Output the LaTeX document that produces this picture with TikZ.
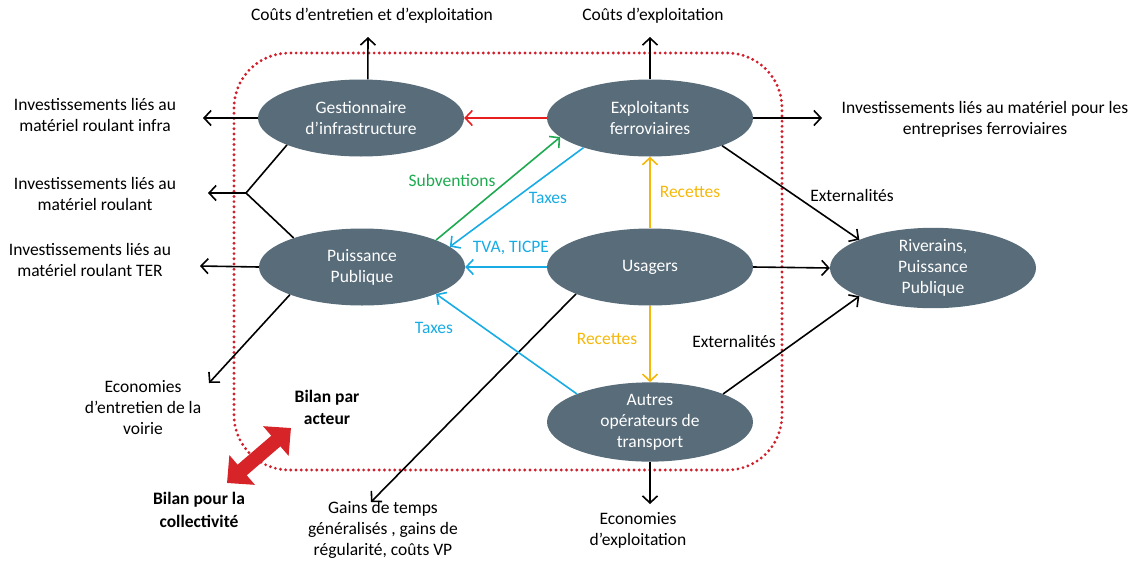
\documentclass[tikz,border=0pt]{standalone}
\usepackage{fontspec}
\setmainfont{Carlito}
\usetikzlibrary{shapes.geometric,arrows.meta}

\definecolor{acteurfill}{RGB}{88,108,122}
\definecolor{cadrerouge}{RGB}{208,32,44}
\definecolor{rouge}{RGB}{232,30,30}
\definecolor{vert}{RGB}{30,170,80}
\definecolor{bleu}{RGB}{25,172,228}
\definecolor{jaune}{RGB}{245,184,10}
\definecolor{bilanrouge}{RGB}{214,36,40}

\tikzset{
  acteur/.style={ellipse, fill=acteurfill, text=white, minimum width=206pt, minimum height=77pt, align=center, inner sep=0pt},
  flux/.style={->, line width=1.6pt},
  cadre/.style={draw=cadrerouge, line width=3.2pt, dash pattern=on 0pt off 5.2pt, line cap=round, rounded corners=55pt},
  bilan/.style={bilanrouge, line width=14pt, {Triangle[length=20pt,width=38pt]}-{Triangle[length=20pt,width=38pt]}},
}

\begin{document}
\begin{tikzpicture}[x=1pt,y=-1pt,
    every node/.style={font=\fontsize{17.5}{21}\selectfont, align=center},
    >={Straight Barb[length=7pt,width=15pt]}]
    \useasboundingbox (0,0) rectangle (1137,560);

    % cadre
    \draw[cadre] (234,53) rectangle (782,470);

    % acteurs
    \node[acteur] (gest) at (361,118) {Gestionnaire\\d’infrastructure};
    \node[acteur] (expl) at (650,118) {Exploitants\\ferroviaires};
    \node[acteur] (puis) at (362,267) {Puissance\\Publique};
    \node[acteur] (usag) at (650,267) {Usagers};
    \node[acteur] (autr) at (650,422) {Autres\\opérateurs de\\transport};
    \node[acteur] (rive) at (933,268) {Riverains,\\Puissance\\Publique};

    % textes
    \node (cEI) at (372,16) {Coûts d’entretien et d’exploitation};
    \node (cE) at (653,16) {Coûts d’exploitation};
    \node (invI) at (95,115) {Investissements liés au\\matériel roulant infra};
    \node (invR) at (95,194) {Investissements liés au\\matériel roulant};
    \node (invT) at (90,260) {Investissements liés au\\matériel roulant TER};
    \node (ecoV) at (143,408) {Economies\\d’entretien de la\\voirie};
    \node (invF) at (985,119) {Investissements liés au matériel pour les\\entreprises ferroviaires};
    \node (gains) at (383,530) {Gains de temps\\généralisés , gains de\\régularité, coûts VP};
    \node (ecoE) at (638,530) {Economies\\d’exploitation};
    \node[font=\fontsize{17.5}{22}\selectfont\bfseries] (bA) at (327,407) {Bilan par\\acteur};
    \node[font=\fontsize{17.5}{23}\selectfont\bfseries] (bC) at (199,510) {Bilan pour la\\collectivité};

    \node (extA) at (852,195) {Externalités};
    \node (extB) at (734,341) {Externalités};
    \node[text=vert] (subv) at (452,180) {Subventions};
    \node[text=bleu] (taxA) at (548,198) {Taxes};
    \node[text=bleu] (tva) at (511,248) {TVA, TICPE};
    \node[text=bleu] (taxB) at (434,328) {Taxes};
    \node[text=jaune] (recA) at (690,192) {Recettes};
    \node[text=jaune] (recB) at (607,339) {Recettes};

    % bouts libres
    \coordinate (fEI) at (368,37);
    \coordinate (fE) at (650,37);
    \coordinate (fI) at (203,118);
    \coordinate (jR) at (246,193);
    \coordinate (fR) at (208,193);
    \coordinate (fT) at (200,266);
    \coordinate (fV) at (209,383);
    \coordinate (fF) at (822,118);
    \coordinate (fG) at (371,502);
    \coordinate (fX) at (650,504);
    \coordinate (bC0) at (227,483);
    \coordinate (bA0) at (291,428);

    % flux
    \draw[flux] (gest.80) -- (fEI);
    \draw[flux] (expl.north) -- (fE);
    \draw[flux] (gest.west) -- (fI);
    \draw[line width=1.6pt] (gest.200) -- (jR) -- (puis.157);
    \draw[flux] (jR) -- (fR);
    \draw[flux] (puis.west) -- (fT);
    \draw[flux] (puis.201) -- (fV);
    \draw[flux] (expl.east) -- (fF);
    \draw[flux] (usag.200) -- (fG);
    \draw[flux] (autr.south) -- (fX);
    \draw[flux] (expl.339) -- (rive.159);
    \draw[flux] (usag.east) -- (rive.west);
    \draw[flux] (autr.21) -- (rive.201);
    \draw[flux, rouge] (expl.west) -- (gest.east);
    \draw[flux, vert] (puis.20) -- (expl.192);
    \draw[flux, bleu] (expl.204) -- (puis.13);
    \draw[flux, bleu] (usag.west) -- (puis.east);
    \draw[flux, bleu] (autr.159) -- (puis.340);
    \draw[flux, jaune] (usag.north) -- (expl.south);
    \draw[flux, jaune] (usag.south) -- (autr.north);

    % bilan
    \draw[bilan] (bC0) -- (bA0);
\end{tikzpicture}
\end{document}
